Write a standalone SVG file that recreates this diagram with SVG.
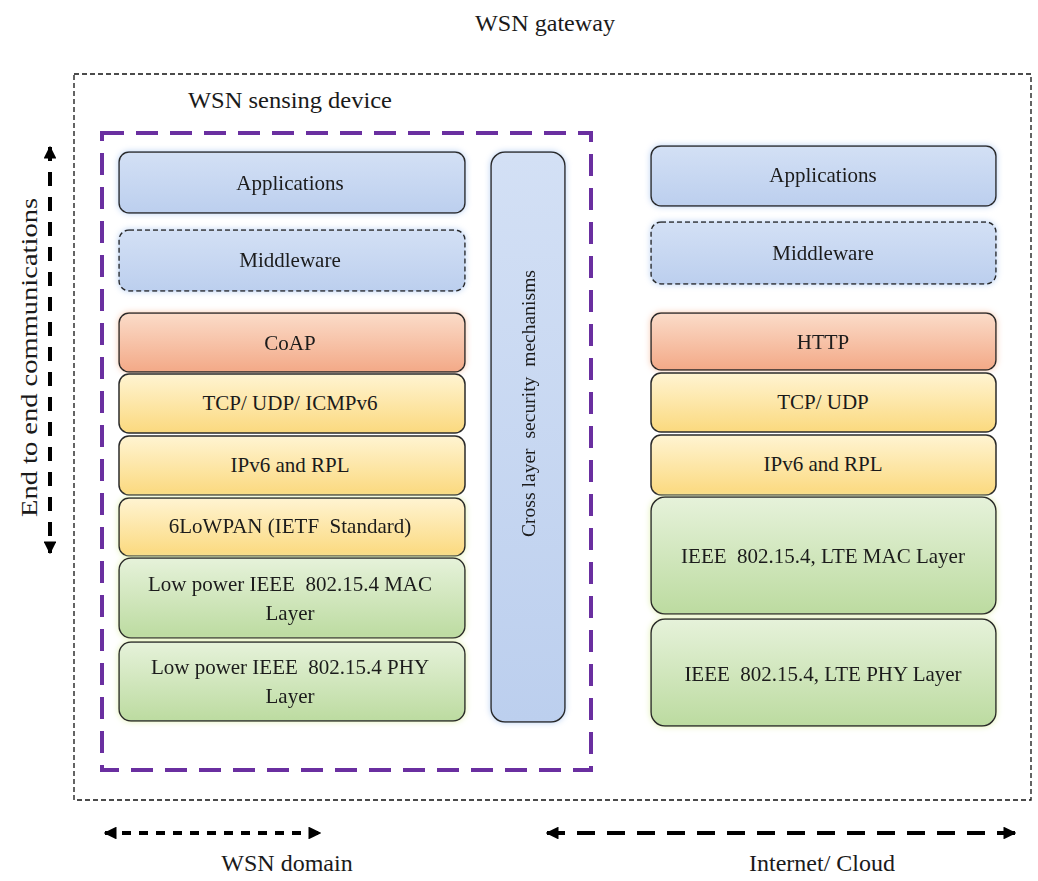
<svg xmlns="http://www.w3.org/2000/svg" width="1038" height="881" viewBox="0 0 1038 881" font-family="'Liberation Serif', 'Times New Roman', 'DejaVu Serif', serif">
<style>
text{font-family:'Liberation Serif','Times New Roman','DejaVu Serif',serif;font-size:21px;fill:#1a1a1a;text-anchor:middle}
.lbl{font-size:24px}
.box{stroke:#2b2b2b;stroke-width:1.5}
.dash{stroke-dasharray:5,3}
.blue{fill:url(#gBlue)}
.orange{fill:url(#gOrange)}
.yellow{fill:url(#gYellow)}
.green{fill:url(#gGreen)}
.arr{stroke:#000;fill:none}
</style>
<defs>
<linearGradient id="gBlue" x1="0" y1="0" x2="0" y2="1"><stop offset="0" stop-color="#d3e0f5"/><stop offset="1" stop-color="#bccfee"/></linearGradient>
<linearGradient id="gOrange" x1="0" y1="0" x2="0" y2="1"><stop offset="0" stop-color="#fbdcc9"/><stop offset="1" stop-color="#f3a987"/></linearGradient>
<linearGradient id="gYellow" x1="0" y1="0" x2="0" y2="1"><stop offset="0" stop-color="#fff4d2"/><stop offset="1" stop-color="#fbd97e"/></linearGradient>
<linearGradient id="gGreen" x1="0" y1="0" x2="0" y2="1"><stop offset="0" stop-color="#e6f2da"/><stop offset="1" stop-color="#bcdba0"/></linearGradient>
<filter id="glowB" x="-10%" y="-20%" width="120%" height="140%"><feGaussianBlur in="SourceAlpha" stdDeviation="3" result="b"/><feFlood flood-color="#bcd2f3" result="c"/><feComposite in="c" in2="b" operator="in" result="s"/><feMerge><feMergeNode in="s"/><feMergeNode in="SourceGraphic"/></feMerge></filter>
<filter id="glowO" x="-10%" y="-20%" width="120%" height="140%"><feGaussianBlur in="SourceAlpha" stdDeviation="3" result="b"/><feFlood flood-color="#f8cdb4" result="c"/><feComposite in="c" in2="b" operator="in" result="s"/><feMerge><feMergeNode in="s"/><feMergeNode in="SourceGraphic"/></feMerge></filter>
<filter id="glowG" x="-10%" y="-20%" width="120%" height="140%"><feGaussianBlur in="SourceAlpha" stdDeviation="3" result="b"/><feFlood flood-color="#e4f2b8" result="c"/><feComposite in="c" in2="b" operator="in" result="s"/><feMerge><feMergeNode in="s"/><feMergeNode in="SourceGraphic"/></feMerge></filter>
<marker id="ah" viewBox="0 0 10 10" refX="9" refY="5" markerWidth="3.2" markerHeight="3.2" orient="auto-start-reverse"><path d="M0,0 L10,5 L0,10 z" fill="#000"/></marker>
</defs>

<g id="gateway">
<rect x="74" y="74" width="957" height="726" fill="none" stroke="#111" stroke-width="1.3" stroke-dasharray="5,3"/>
<text class="lbl" x="545" y="31" textLength="140" lengthAdjust="spacingAndGlyphs">WSN gateway</text>
</g>

<g id="sensing-device">
<rect x="102" y="133" width="489" height="637" fill="none" stroke="#6a2fa0" stroke-width="4" stroke-dasharray="22,12"/>
<text class="lbl" x="290" y="108" textLength="204" lengthAdjust="spacingAndGlyphs">WSN sensing device</text>
</g>

<g id="l-applications" filter="url(#glowB)"><rect class="box blue" x="119" y="152" width="346" height="61" rx="10"/><text x="290" y="190">Applications</text></g>
<g id="l-middleware" filter="url(#glowB)"><rect class="box blue dash" x="119" y="230" width="346" height="61" rx="10"/><text x="290" y="267">Middleware</text></g>
<g id="l-coap" filter="url(#glowO)"><rect class="box orange" x="119" y="313" width="346" height="59" rx="10"/><text x="290" y="350">CoAP</text></g>
<g id="l-tcp"><rect class="box yellow" x="119" y="374" width="346" height="59" rx="10"/><text x="290" y="410">TCP/ UDP/ ICMPv6</text></g>
<g id="l-ipv6"><rect class="box yellow" x="119" y="436" width="346" height="59" rx="10"/><text x="290" y="472">IPv6 and RPL</text></g>
<g id="l-6lowpan" filter="url(#glowG)"><rect class="box yellow" x="119" y="498" width="346" height="58" rx="10"/><text x="290" y="533" xml:space="preserve">6LoWPAN (IETF  Standard)</text></g>
<g id="l-mac" filter="url(#glowG)"><rect class="box green" x="119" y="558" width="346" height="80" rx="12"/><text x="290" y="591" xml:space="preserve">Low power IEEE  802.15.4 MAC</text><text x="290" y="620">Layer</text></g>
<g id="l-phy" filter="url(#glowG)"><rect class="box green" x="119" y="642" width="346" height="79" rx="12"/><text x="290" y="674" xml:space="preserve">Low power IEEE  802.15.4 PHY</text><text x="290" y="703">Layer</text></g>

<g id="cross-layer" filter="url(#glowB)"><rect class="box blue" x="491" y="152" width="74" height="570" rx="14"/><text transform="translate(535,403.5) rotate(-90)" textLength="267" lengthAdjust="spacingAndGlyphs" style="font-size:19px" xml:space="preserve">Cross layer  security  mechanisms</text></g>

<g id="r-applications" filter="url(#glowB)"><rect class="box blue" x="651" y="146" width="345" height="60" rx="10"/><text x="823" y="182">Applications</text></g>
<g id="r-middleware" filter="url(#glowB)"><rect class="box blue dash" x="651" y="222" width="345" height="62" rx="10"/><text x="823" y="260">Middleware</text></g>
<g id="r-http" filter="url(#glowO)"><rect class="box orange" x="651" y="313" width="345" height="57" rx="10"/><text x="823" y="349">HTTP</text></g>
<g id="r-tcp"><rect class="box yellow" x="651" y="373" width="345" height="59" rx="10"/><text x="823" y="409">TCP/ UDP</text></g>
<g id="r-ipv6"><rect class="box yellow" x="651" y="435" width="345" height="60" rx="10"/><text x="823" y="471">IPv6 and RPL</text></g>
<g id="r-mac" filter="url(#glowG)"><rect class="box green" x="651" y="497" width="345" height="117" rx="14"/><text x="823" y="563" xml:space="preserve">IEEE  802.15.4, LTE MAC Layer</text></g>
<g id="r-phy" filter="url(#glowG)"><rect class="box green" x="651" y="619" width="345" height="107" rx="14"/><text x="823" y="681" xml:space="preserve">IEEE  802.15.4, LTE PHY Layer</text></g>

<g id="connectors">
<line class="arr" x1="50" y1="147" x2="50" y2="553" stroke-width="4" stroke-dasharray="14,11" marker-start="url(#ah)" marker-end="url(#ah)"/>
<line class="arr" x1="105" y1="833" x2="320" y2="833" stroke-width="4" stroke-dasharray="9,8" marker-start="url(#ah)" marker-end="url(#ah)"/>
<line class="arr" x1="547" y1="833" x2="1015" y2="833" stroke-width="4" stroke-dasharray="18,12" marker-start="url(#ah)" marker-end="url(#ah)"/>
</g>

<g id="labels">
<text class="lbl" transform="translate(37,357.5) rotate(-90)" textLength="319" lengthAdjust="spacingAndGlyphs">End to end communications</text>
<text class="lbl" x="287" y="871">WSN domain</text>
<text class="lbl" x="822" y="871">Internet/ Cloud</text>
</g>
</svg>
